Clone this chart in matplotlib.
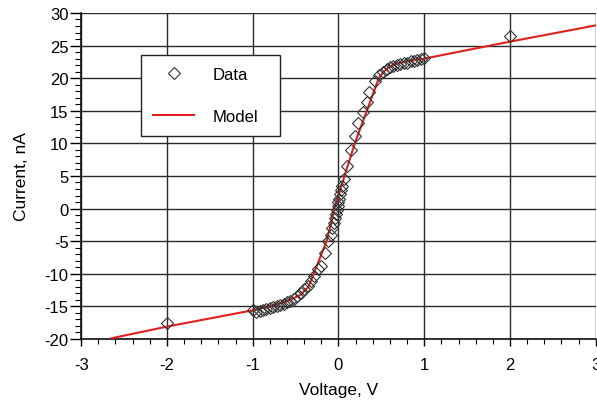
import numpy as np
import matplotlib
matplotlib.use('Agg')
import matplotlib.pyplot as plt
from matplotlib.ticker import MultipleLocator

plt.rcParams['font.family'] = ['Liberation Sans', 'DejaVu Sans']
plt.rcParams['axes.unicode_minus'] = False

# measured points (diamonds)
data_v = [-2.0, -1.0, -0.96, -0.92, -0.88, -0.84, -0.80, -0.76, -0.72, -0.68,
          -0.64, -0.60, -0.56, -0.52, -0.48, -0.44, -0.40, -0.36, -0.32, -0.28,
          -0.24, -0.20, -0.16, -0.12, -0.09, -0.07, -0.05, -0.04, -0.03, -0.02,
          -0.01, 0.0, 0.01, 0.02, 0.03, 0.04, 0.06, 0.10, 0.15, 0.19, 0.23,
          0.28, 0.33, 0.36, 0.42, 0.47, 0.52, 0.56, 0.60, 0.64, 0.68, 0.72,
          0.76, 0.80, 0.84, 0.88, 0.92, 0.96, 1.0, 2.0]
data_i = [-17.5, -15.5, -15.8, -15.7, -15.6, -15.4, -15.3, -15.1, -15.0, -14.8,
          -14.6, -14.3, -14.1, -13.8, -13.4, -12.9, -12.3, -11.8, -11.1, -10.3,
          -9.3, -8.8, -6.8, -5.0, -4.0, -3.0, -2.2, -1.5, -0.8, -0.2,
          0.4, 1.0, 1.5, 2.2, 2.8, 3.5, 4.5, 6.5, 9.0, 11.1, 13.1,
          14.8, 16.3, 17.9, 19.6, 20.5, 21.0, 21.4, 21.7, 21.9, 22.0, 22.2,
          22.3, 22.4, 22.6, 22.7, 22.8, 22.9, 23.1, 26.5]

# fitted model curve
model_v = [-2.65, -2.0, -1.0, -0.8, -0.6, -0.45, -0.35, -0.29, -0.22, -0.14,
           -0.09, -0.05, 0.0, 0.07, 0.13, 0.19, 0.26, 0.33, 0.40, 0.47,
           0.52, 0.57, 0.62, 0.70, 0.80, 0.90, 1.0, 2.0, 3.0]
model_i = [-19.9, -18.1, -15.6, -15.0, -14.2, -13.3, -12.0, -10.0, -7.7, -5.0,
           -2.5, 0.0, 2.0, 5.0, 7.5, 10.0, 12.5, 15.0, 17.5, 20.0,
           20.9, 21.5, 21.9, 22.3, 22.6, 22.8, 23.0, 25.6, 28.1]

fig = plt.figure(figsize=(5.97, 4.06), dpi=100)
ax = fig.add_axes([0.136, 0.1626, 0.862, 0.803])

ax.plot(model_v, model_i, color='#e0201c', lw=1.5, zorder=3, label='Model')
ax.plot(data_v, data_i, linestyle='none', marker='D', ms=6.5, mfc='none',
        mec='#333333', mew=0.8, zorder=4, label='Data')

ax.set_xlim(-3, 3)
ax.set_ylim(-20, 30)
ax.xaxis.set_major_locator(MultipleLocator(1))
ax.xaxis.set_minor_locator(MultipleLocator(0.2))
ax.yaxis.set_major_locator(MultipleLocator(5))
ax.yaxis.set_minor_locator(MultipleLocator(1))

ax.grid(True, which='major', color='#2a2a2a', lw=1.0)
ax.set_axisbelow(True)
for s in ['top', 'right']:
    ax.spines[s].set_visible(False)
for s in ['left', 'bottom']:
    ax.spines[s].set_linewidth(1.2)
    ax.spines[s].set_color('#111111')

ax.tick_params(axis='y', which='major', direction='out', length=8, width=1, labelsize=12, pad=1)
ax.tick_params(axis='y', which='minor', direction='out', length=4, width=0.8)
ax.tick_params(axis='x', which='major', direction='out', length=5, width=1, labelsize=12, pad=8)
ax.tick_params(axis='x', which='minor', direction='out', length=3.5, width=0.8)

ax.set_xlabel('Voltage, V', fontsize=12.5, labelpad=7)
ax.set_ylabel('Current, nA', fontsize=12.5, labelpad=11.5)

h, l = ax.get_legend_handles_labels()
leg = ax.legend(h[::-1], l[::-1], loc='upper left',
                bbox_to_anchor=(0.1165, 0.626, 0.27, 0.245), mode='expand',
                fontsize=12, frameon=True, fancybox=False, framealpha=1,
                edgecolor='#222222', borderaxespad=0, borderpad=0.7,
                labelspacing=1.65, handlelength=2.5, handletextpad=1.08)
leg.get_frame().set_linewidth(1.0)

fig.savefig('out.png', dpi=100)
